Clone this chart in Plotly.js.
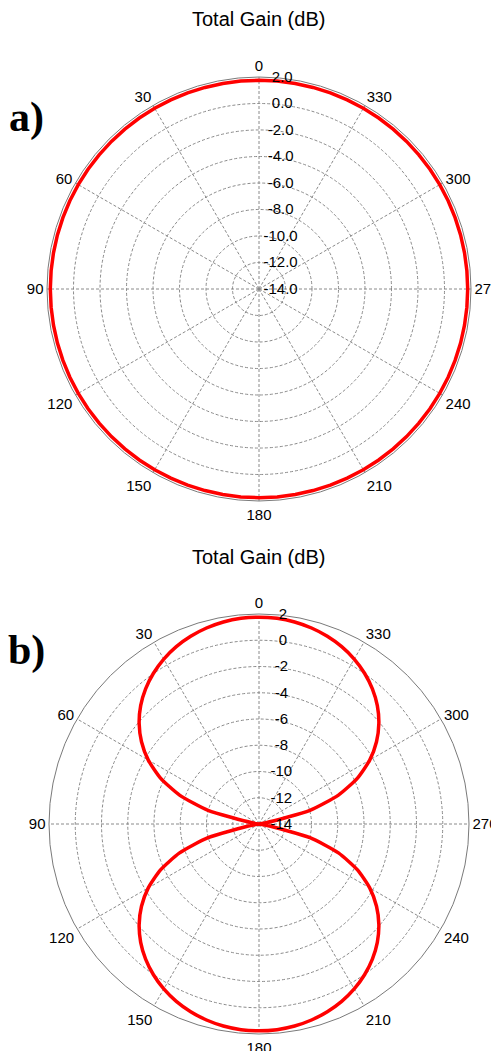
<!DOCTYPE html>
<html>
<head>
<meta charset="utf-8">
<script src="https://cdn.plot.ly/plotly-3.0.1.min.js"></script>
<style>html,body{margin:0;padding:0;background:#fff;}#chart{width:491px;height:1051px;}</style>
</head>
<body>
<div id="chart"></div>
<script>
// Angles (degrees) at which the gain was read
const angleDeg = [0,5,10,15,20,25,30,35,40,45,50,55,60,65,70,75,80,85,
  90,95,100,105,110,115,120,125,130,135,140,145,150,155,160,165,170,175,
  180,185,190,195,200,205,210,215,220,225,230,235,240,245,250,255,260,265,
  270,275,280,285,290,295,300,305,310,315,320,325,330,335,340,345,350,355,360];

// Panel a) total gain (dB) - nearly omnidirectional
const gainA = [1.75,1.75,1.75,1.75,1.75,1.75,1.75,1.75,1.75,1.75,1.75,1.75,1.75,1.75,1.75,1.75,1.75,1.75,
  1.75,1.75,1.75,1.75,1.75,1.75,1.75,1.75,1.75,1.75,1.75,1.75,1.75,1.75,1.75,1.75,1.75,1.75,
  1.75,1.75,1.75,1.75,1.75,1.75,1.75,1.75,1.75,1.75,1.75,1.75,1.75,1.75,1.75,1.75,1.75,1.75,
  1.75,1.75,1.75,1.75,1.75,1.75,1.75,1.75,1.75,1.75,1.75,1.75,1.75,1.75,1.75,1.75,1.75,1.75,1.75];

// Panel b) total gain (dB) - figure-eight pattern
const gainB = [1.76,1.73,1.63,1.46,1.22,0.91,0.51,0.02,-0.56,-1.25,-2.08,-3.07,-4.26,-5.72,-7.56,-9.98,-13.45,-14,
  -14,-14,-13.45,-9.98,-7.56,-5.72,-4.26,-3.07,-2.08,-1.25,-0.56,0.02,0.51,0.91,1.22,1.46,1.63,1.73,
  1.76,1.73,1.63,1.46,1.22,0.91,0.51,0.02,-0.56,-1.25,-2.08,-3.07,-4.26,-5.72,-7.56,-9.98,-13.45,-14,
  -14,-14,-13.45,-9.98,-7.56,-5.72,-4.26,-3.07,-2.08,-1.25,-0.56,0.02,0.51,0.91,1.22,1.46,1.63,1.73,1.76];

const angTickVals = [0,30,60,90,120,150,180,210,240,270,300,330];
const angTickText = ["0","30","60","90","120","150","180","210","240","270","300","330"];
const radTickVals = [-14,-12,-10,-8,-6,-4,-2,0,2];
const radTickTextA = ["-14.0","-12.0","-10.0","-8.0","-6.0","-4.0","-2.0","0.0","2.0"];
const radTickTextB = ["-14","-12","-10","-8","-6","-4","-2","0","2"];
const titles = ["Total Gain (dB)","Total Gain (dB)"];
const panelLabels = ["a)","b)"];

const FONT = "Liberation Sans, Arial, sans-serif";
const gridCol = "#8a8a8a";

// centre the radial labels on a common vertical line by left-padding short ones
function centrePad(labels){
  const m = Math.max(...labels.map(s => s.length));
  return labels.map(s => "\u00a0".repeat(m - s.length) + s);
}

function polarCfg(domX, domY, radText, standoff){
  return {
    domain:{x:domX, y:domY},
    bgcolor:"rgba(0,0,0,0)",
    angularaxis:{
      rotation:90, direction:"counterclockwise",
      tickmode:"array", tickvals:angTickVals, ticktext:angTickText,
      showgrid:true, gridcolor:gridCol, griddash:"3px,2px", gridwidth:1,
      showline:true, linecolor:"#7a7a7a", linewidth:1,
      ticks:"", tickfont:{family:FONT,size:15,color:"#000"}
    },
    radialaxis:{
      range:[-14,2], angle:90, side:"clockwise",
      tickmode:"array", tickvals:radTickVals, ticktext:centrePad(radText),
      showgrid:true, gridcolor:gridCol, griddash:"3px,2px", gridwidth:1,
      showline:false, ticks:"outside", ticklen:standoff, tickcolor:"rgba(0,0,0,0)", tickangle:90,
      tickfont:{family:FONT,size:15,color:"#000"}
    }
  };
}

const traces = [
  {type:"scatterpolar", subplot:"polar", r:gainA, theta:angleDeg, mode:"lines",
   line:{color:"#ff0000", width:3.5}, hoverinfo:"skip"},
  {type:"scatterpolar", subplot:"polar2", r:gainB, theta:angleDeg, mode:"lines",
   line:{color:"#ff0000", width:3.5, shape:"spline", smoothing:0.6}, hoverinfo:"skip"}
];

const layout = {
  width:491, height:1051,
  margin:{l:0,r:0,t:0,b:0},
  paper_bgcolor:"#fff",
  showlegend:false,
  polar: polarCfg([47/491, 471/491],[1-501/1051, 1-77/1051], radTickTextA, 1),
  polar2: polarCfg([49/491, 469/491],[1-1034/1051, 1-614/1051], radTickTextB, 8),
  annotations:[
    {text:titles[0], x:258/491, y:1-19/1051, xref:"paper", yref:"paper", xanchor:"center", yanchor:"middle",
     showarrow:false, font:{family:FONT,size:20,color:"#000"}},
    {text:titles[1], x:258/491, y:1-557/1051, xref:"paper", yref:"paper", xanchor:"center", yanchor:"middle",
     showarrow:false, font:{family:FONT,size:20,color:"#000"}},
    {text:"<b>"+panelLabels[0]+"</b>", x:26/491, y:1-117/1051, xref:"paper", yref:"paper", xanchor:"center", yanchor:"middle",
     showarrow:false, font:{family:"Liberation Serif, Times New Roman, serif",size:42,color:"#000"}},
    {text:"<b>"+panelLabels[1]+"</b>", x:26/491, y:1-650/1051, xref:"paper", yref:"paper", xanchor:"center", yanchor:"middle",
     showarrow:false, font:{family:"Liberation Serif, Times New Roman, serif",size:42,color:"#000"}}
  ]
};

Plotly.newPlot("chart", traces, layout, {staticPlot:true, displayModeBar:false});
</script>
</body>
</html>
